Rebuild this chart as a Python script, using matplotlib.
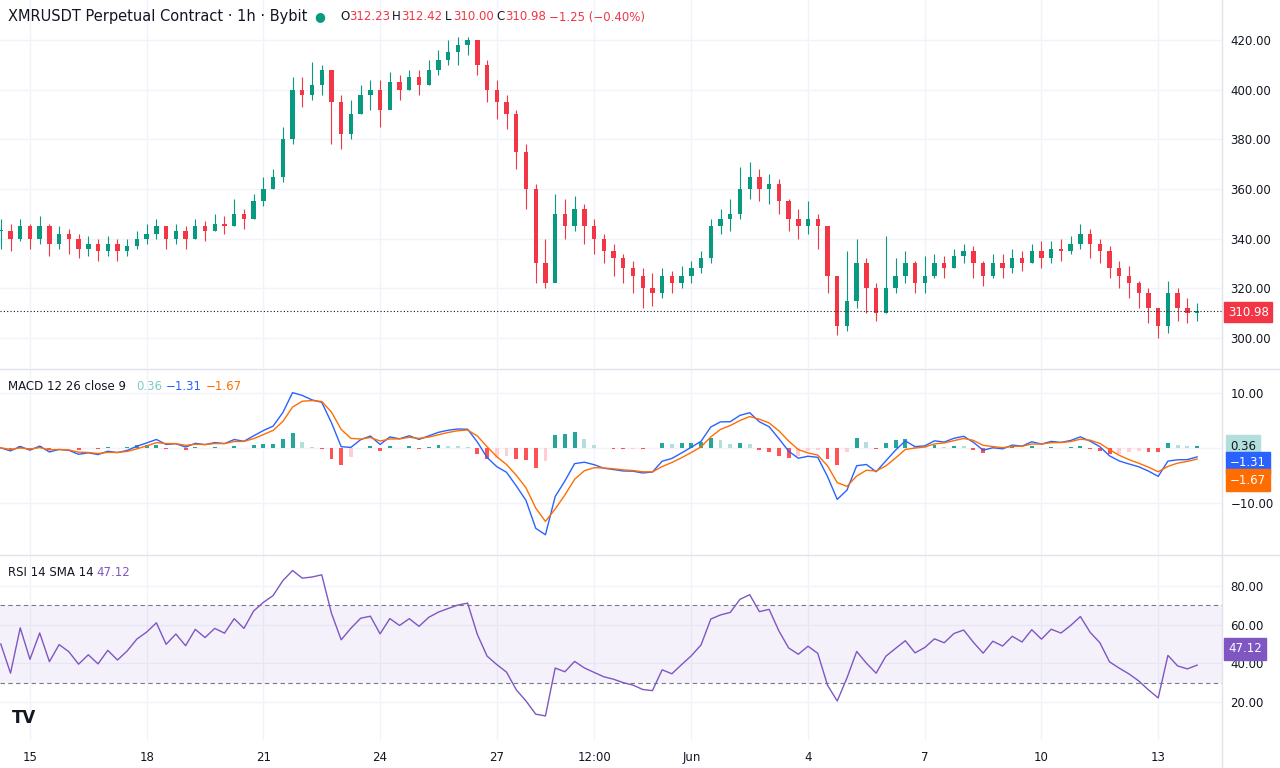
import numpy as np
import matplotlib
matplotlib.use("Agg")
import matplotlib.pyplot as plt
import pandas as pd

# 6-hour closes, starting 14 May 06:00
closes = [343,340,345,
 340,345,338,342, 340,336,338,335, 338,335,337,340, 342,345,340,343,
 340,345,343,346, 345,350,348,355, 360,365,380,400, 398,402,408,395,
 382,390,398,400, 392,403,400,405, 402,408,412,415, 418,420,410,400,
 395,390,375,360, 330,322,350,345, 352,345,340,335, 332,328,325,320,
 318,325,322,325, 328,332,345,348, 350,360,365,360, 362,355,348,345,
 348,345,325,305, 315,330,320,310, 320,325,330,322, 325,330,328,333,
 335,330,325,330, 328,332,330,335, 332,336,335,338, 342,338,335,328,
 325,322,318,312, 305,318,312,310, 311]
highs = [348,346,348,
 346,349,346,345, 344,342,341,340, 341,340,340,343, 346,348,345,346,
 345,348,347,350, 349,356,352,358, 365,368,385,405, 405,411,410,408,
 398,396,402,404, 404,407,406,408, 408,412,416,420, 421,421,420,412,
 404,398,392,378, 362,340,358,356, 357,354,348,342, 338,334,331,328,
 326,328,327,329, 331,335,348,352, 356,369,371,368, 366,364,356,352,
 355,350,345,320, 335,340,332,322, 341,332,335,331, 333,334,333,336,
 338,337,331,334, 334,336,335,338, 339,339,340,341, 346,344,340,337,
 331,329,323,320, 312,323,320,316, 314]
lows = [336,335,339,
 336,338,333,336, 334,332,333,331, 333,331,333,336, 338,340,336,338,
 336,340,339,343, 342,345,344,348, 353,360,363,378, 393,396,398,378,
 376,380,390,392, 385,395,396,400, 398,402,406,410, 410,414,406,395,
 388,384,368,352, 322,320,326,340, 343,338,334,330, 325,322,318,312,
 313,316,318,320, 322,326,330,342, 343,348,356,355, 354,350,343,340,
 342,336,318,301, 303,312,310,307, 310,318,322,318, 318,324,324,328,
 330,324,321,324, 324,326,327,330, 328,330,331,334, 336,332,330,324,
 320,316,312,306, 300,302,307,306, 307]
t0 = -0.75
step = 0.25
tick_pos = [0,3,6,9,12,14.5,17,20,23,26,29]
tick_lab = ["15","18","21","24","27","12:00","Jun","4","7","10","13"]

UP, DN = "#089981", "#f23645"
c = np.array(closes, float); h = np.array(highs, float); l = np.array(lows, float)
o = np.concatenate([[c[0]], c[:-1]])
x = t0 + step*np.arange(len(c))

s = pd.Series(c)
fast = s.ewm(span=3, adjust=False).mean(); slow = s.ewm(span=6, adjust=False).mean()
macd = (fast - slow) * 0.85; sig = macd.ewm(span=3, adjust=False).mean(); hist = macd - sig
d = s.diff().fillna(0)
up = d.clip(lower=0).ewm(alpha=1/7, adjust=False).mean() + 0.5
dn = (-d.clip(upper=0)).ewm(alpha=1/7, adjust=False).mean() + 0.5
rsi = 100 - 100/(1+up/dn)

fig = plt.figure(figsize=(12.8, 7.68), dpi=100)
W, H = 1280, 768
def ax_at(top, bot):
    return fig.add_axes([0, 1-bot/H, 1222/W, (bot-top)/H])
ax1 = ax_at(0, 368); ax2 = ax_at(370, 555); ax3 = ax_at(556, 740)
xl = (-0.77, 30.64)
for a in (ax1, ax2, ax3):
    a.set_xlim(*xl)
    a.yaxis.tick_right()
    a.tick_params(axis='y', length=0, labelsize=8.5, colors="#131722", pad=6)
    a.tick_params(axis='x', length=0)
    a.set_xticks(tick_pos); a.set_xticklabels([])
    a.grid(color="#f0f3fa", lw=1)
    for sp in a.spines.values(): sp.set_visible(False)
    a.set_axisbelow(True)

# candles
cols = [UP if cc >= oo else DN for oo, cc in zip(o, c)]
ax1.vlines(x, l, h, colors=cols, lw=0.8)
ax1.bar(x, np.maximum(np.abs(c-o), 0.3), bottom=np.minimum(o, c), width=step*0.45, color=cols)
ax1.set_ylim(287.9, 436.1)
ax1.set_yticks([300,320,340,360,380,400,420])
ax1.set_yticklabels([f"{v:.2f}" for v in [300,320,340,360,380,400,420]])
ax1.axhline(310.98, color="#131722", ls=(0,(1,2)), lw=0.8)
fig.text(1228/W, 1-312/H, "310.98", color="white", fontsize=8.5, va="center",
         bbox=dict(boxstyle="square,pad=0.3", fc=DN, ec=DN))
fig.text(8/W, 1-17/H, "XMRUSDT Perpetual Contract · 1h · Bybit", fontsize=10.5, color="#131722", va="center")
fig.text(314/W, 1-17/H, "●", color=UP, fontsize=9, va="center")
xx = 340
for lab, val in [("O","312.23"),("H","312.42"),("L","310.00"),("C","310.98"),("","−1.25 (−0.40%)")]:
    if lab:
        fig.text(xx/W, 1-17/H, lab, fontsize=8.5, color="#131722", va="center"); xx += 9
    fig.text(xx/W, 1-17/H, val, fontsize=8.5, color=DN, va="center"); xx += 6.2*len(val)+6

# MACD
hc = []
for i, v in enumerate(hist):
    prev = hist.iloc[i-1] if i else v
    if v >= 0: hc.append("#26a69a" if v >= prev else "#b2dfdb")
    else: hc.append("#ff5252" if v < prev else "#ffcdd2")
ax2.bar(x, hist, width=step*0.4, color=hc)
ax2.plot(x, macd, color="#2962ff", lw=1)
ax2.plot(x, sig, color="#ff6d00", lw=1)
ax2.set_ylim(-19.4, 14.1)
ax2.set_yticks([-10, 0, 10]); ax2.set_yticklabels(["−10.00", "", "10.00"])
fig.text(8/W, 1-386/H, "MACD 12 26 close 9", fontsize=8.5, color="#131722", va="center")
fig.text(136/W, 1-386/H, "0.36", fontsize=8.5, color="#80cbc4", va="center")
fig.text(166/W, 1-386/H, "−1.31", fontsize=8.5, color="#2962ff", va="center")
fig.text(206/W, 1-386/H, "−1.67", fontsize=8.5, color="#ff6d00", va="center")
for yy, txt, fc, tc in [(446,"0.36","#b2dfdb","#131722"),(463,"−1.31","#2962ff","white"),(480,"−1.67","#ff6d00","white")]:
    fig.text(1230/W, 1-yy/H, txt, fontsize=8.5, color=tc, va="center",
             bbox=dict(boxstyle="square,pad=0.35", fc=fc, ec=fc))

# RSI
ax3.axhspan(30, 70, color="#7e57c2", alpha=0.08, lw=0)
ax3.axhline(70, color="#787b86", ls=(0,(4,3)), lw=0.8)
ax3.axhline(30, color="#787b86", ls=(0,(4,3)), lw=0.8)
ax3.plot(x, rsi, color="#7e57c2", lw=1)
ax3.set_ylim(0.5, 95.4)
ax3.set_yticks([20,40,60,80]); ax3.set_yticklabels(["20.00","40.00","60.00","80.00"])
fig.text(8/W, 1-572/H, "RSI 14 SMA 14", fontsize=8.5, color="#131722", va="center")
fig.text(96/W, 1-572/H, "47.12", fontsize=8.5, color="#7e57c2", va="center")
fig.text(1228/W, 1-649/H, "47.12", fontsize=8.5, color="white", va="center",
         bbox=dict(boxstyle="square,pad=0.35", fc="#7e57c2", ec="#7e57c2"))
fig.text(12/W, 1-718/H, "TV", fontsize=12, fontweight="bold", color="#131722", va="center")

# separators
for yy in (369, 555):
    fig.add_artist(plt.Line2D([0, 1], [1-yy/H]*2, color="#e0e3eb", lw=1))
fig.add_artist(plt.Line2D([1222/W]*2, [0, 1], color="#e0e3eb", lw=1))

ax3.set_xticklabels(tick_lab)
ax3.tick_params(axis='x', labelsize=8.5, colors="#131722", pad=8)
fig.savefig("out.png", dpi=100, facecolor="white")
